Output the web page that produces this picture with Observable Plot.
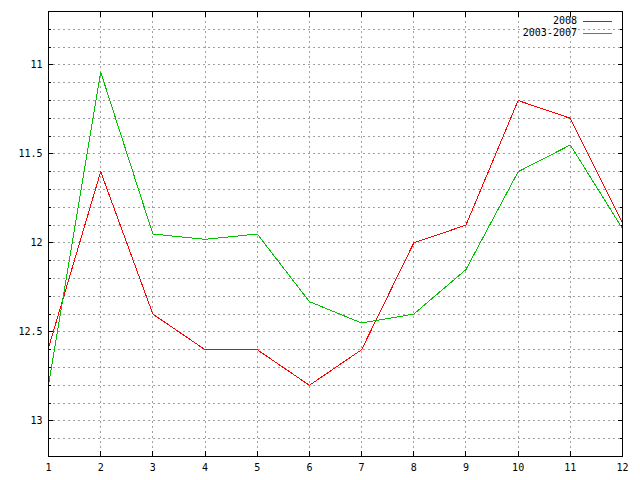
<!DOCTYPE html>
<html>
<head>
<meta charset="utf-8">
<script src="https://cdn.jsdelivr.net/npm/d3@7"></script>
<script src="https://cdn.jsdelivr.net/npm/@observablehq/plot@0.6"></script>
<style>
  html, body { margin: 0; padding: 0; background: #fff; }
  #wrap { position: relative; width: 640px; height: 480px; }
  #chart svg { display: block; }
  #legend { position: absolute; top: 15px; right: 28px; font-family: "DejaVu Sans Mono", monospace; font-size: 10px; line-height: 12px; color: #000; }
  #legend .row { display: flex; align-items: center; justify-content: flex-end; height: 12px; }
  #legend .swatch { display: inline-block; width: 29px; height: 1px; margin-left: 6px; }
</style>
</head>
<body>
<div id="wrap"><div id="chart"></div><div id="legend"></div></div>
<script>
const months = [1, 2, 3, 4, 5, 6, 7, 8, 9, 10, 11, 12];
const series2008 = [12.59, 11.6, 12.4, 12.6, 12.6, 12.8, 12.6, 12.0, 11.9, 11.2, 11.3, 11.89];
const series0307 = [12.8, 11.04, 11.95, 11.98, 11.95, 12.33, 12.45, 12.4, 12.15, 11.6, 11.45, 11.92];
const seriesNames = ["2008", "2003-2007"];
const seriesColors = ["#ff0000", "#00c000"];
const xTicks = [1, 2, 3, 4, 5, 6, 7, 8, 9, 10, 11, 12];
const xGrid = [2, 3, 4, 5, 6, 7, 8, 9, 10, 11];
const yTicks = [11, 11.5, 12, 12.5, 13];
const yMinor = [10.8, 10.9, 11, 11.1, 11.2, 11.3, 11.4, 11.5, 11.6, 11.7, 11.8, 11.9, 12, 12.1, 12.2, 12.3, 12.4, 12.5, 12.6, 12.7, 12.8, 12.9, 13, 13.1];

const rows = [];
months.forEach((m, i) => {
  rows.push({month: m, value: series2008[i], series: seriesNames[0]});
  rows.push({month: m, value: series0307[i], series: seriesNames[1]});
});

const gridStyle = {stroke: "#a0a0a0", strokeOpacity: 1, strokeDasharray: "2,3", strokeWidth: 1, shapeRendering: "crispEdges"};
const tickStyle = {text: null, label: null, stroke: "#000", strokeOpacity: 1, shapeRendering: "crispEdges"};

const chart = Plot.plot({
  width: 640,
  height: 480,
  marginLeft: 48,
  marginRight: 18,
  marginTop: 11,
  marginBottom: 24,
  style: {fontFamily: "DejaVu Sans Mono", fontSize: "10px", color: "#000", background: "#fff"},
  x: {domain: [1, 12]},
  y: {domain: [10.7, 13.2], reverse: true},
  color: {domain: seriesNames, range: seriesColors},
  marks: [
    Plot.gridX(xGrid, gridStyle),
    Plot.gridY(yMinor, gridStyle),
    Plot.axisX(xTicks, {tickSize: 0, tickPadding: 7, tickFormat: d => String(d), label: null, fontSize: 10}),
    Plot.axisX(xTicks, {tickSize: -5, ...tickStyle}),
    Plot.axisX(xTicks, {anchor: "top", tickSize: -5, ...tickStyle}),
    Plot.axisY(yTicks, {tickSize: 0, tickPadding: 6, tickFormat: d => String(d), label: null}),
    Plot.axisY(yTicks, {tickSize: -5, ...tickStyle}),
    Plot.axisY(yMinor, {tickSize: -3, ...tickStyle}),
    Plot.axisY(yTicks, {anchor: "right", tickSize: -5, ...tickStyle}),
    Plot.axisY(yMinor, {anchor: "right", tickSize: -3, ...tickStyle}),
    Plot.line(rows, {x: "month", y: "value", z: "series", stroke: "series", strokeWidth: 1, shapeRendering: "crispEdges"}),
    Plot.frame({stroke: "#000", strokeWidth: 1, shapeRendering: "crispEdges"})
  ]
});

document.getElementById("chart").appendChild(chart);

// legend (top-right, inside the plot frame)
const legend = d3.select("#legend");
seriesNames.forEach((name, i) => {
  const row = legend.append("div").attr("class", "row");
  row.append("span").text(name);
  row.append("span").attr("class", "swatch").style("background-color", seriesColors[i]);
});
</script>
</body>
</html>
